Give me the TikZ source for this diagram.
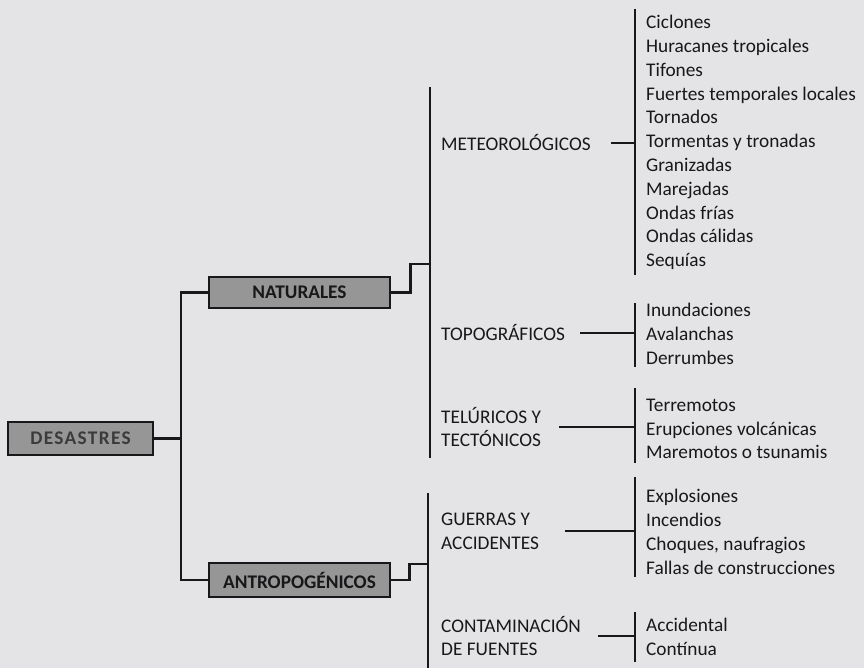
\documentclass[tikz,border=0pt]{standalone}
\usepackage{fontspec}
\setmainfont{Carlito}
\usetikzlibrary{positioning}
\newcommand{\letra}{\fontsize{19.3}{23.8}\selectfont}
\definecolor{fondo}{RGB}{228,228,230}
\definecolor{gris}{RGB}{150,150,150}
\definecolor{tinta}{RGB}{24,24,26}
\tikzset{
  caja/.style={draw=tinta, line width=2.6pt, fill=gris, font=\letra\bfseries, text=tinta, inner sep=0pt},
  categoria/.style={anchor=west, align=left, inner sep=0pt, text=tinta},
  lista/.style={anchor=west, align=left, inner sep=0pt, text=tinta},
  rama/.style={line width=2.8pt, draw=tinta},
}

\begin{document}
\begin{tikzpicture}[x=1pt, y=-1pt, font=\letra]
  % Fondo
  \fill[fondo] (0,0) rectangle (864,668);
  \useasboundingbox (0,0) rectangle (864,668);

  % Cajas principales
  \node[caja, minimum width=145pt, minimum height=33pt, text=tinta!85] (desastres) at (80.5,438.5) {\addfontfeature{LetterSpace=7}DESASTRES};
  \node[caja, minimum width=181pt, minimum height=31pt] (naturales) at (299.5,292.5) {NATURALES};
  \node[caja, minimum width=181pt, minimum height=34pt] (antropo) at (299.5,580) {ANTROPOGÉNICOS};

  % Tronco: desastres -> naturales / antropogenicos
  \coordinate (tronco) at (181,0);
  \draw[rama] (naturales.west) -| (tronco |- antropo.west) -- (antropo.west);
  \draw[rama] (desastres.east) -- (desastres.east -| tronco);

  % Barras de las categorias
  \coordinate (natT) at (430,87);
  \coordinate (natB) at (430,458);
  \coordinate (natJ) at (430,264);
  \draw[rama] (natT) -- (natB);
  \draw[rama] (naturales.east) -- ++(19,0) |- (natJ);

  \coordinate (antT) at (428,493);
  \coordinate (antB) at (428,670);
  \coordinate (antJ) at (428,564);
  \draw[rama] (antT) -- (antB);
  \draw[rama] (antropo.east) -- ++(18,0) |- (antJ);

  % Categorias
  \node[categoria] (meteo) at (441,143) {METEOROLÓGICOS};
  \node[categoria] (topo) at (441,333) {TOPOGRÁFICOS};
  \node[categoria] (telur) at (441,427) {TELÚRICOS Y\\TECTÓNICOS};
  \node[categoria] (guerras) at (441,531) {GUERRAS Y\\ACCIDENTES};
  \node[categoria] (contam) at (441,636) {CONTAMINACIÓN\\DE FUENTES};

  % Listas de cada categoria
  \node[lista] (meteoL) at (646,142.5) {Ciclones\\Huracanes tropicales\\Tifones\\Fuertes temporales locales\\Tornados\\Tormentas y tronadas\\Granizadas\\Marejadas\\Ondas frías\\Ondas cálidas\\Sequías};
  \node[lista] (topoL) at (646,334) {Inundaciones\\Avalanchas\\Derrumbes};
  \node[lista] (telurL) at (646,429) {Terremotos\\Erupciones volcánicas\\Maremotos o tsunamis};
  \node[lista] (guerrasL) at (646,532) {Explosiones\\Incendios\\Choques, naufragios\\Fallas de construcciones};
  \node[lista] (contamL) at (646,636.5) {Accidental\\Contínua};

  % Barras de las listas
  \coordinate (meteoT) at (635,9);    \coordinate (meteoB) at (635,275);
  \coordinate (topoT) at (635,303);   \coordinate (topoB) at (635,367);
  \coordinate (telurT) at (635,388);  \coordinate (telurB) at (635,463);
  \coordinate (guerrasT) at (635,477);\coordinate (guerrasB) at (635,577);
  \coordinate (contamT) at (635,612); \coordinate (contamB) at (635,662);
  \draw[rama] (meteoT) -- (meteoB);
  \draw[rama] (topoT) -- (topoB);
  \draw[rama] (telurT) -- (telurB);
  \draw[rama] (guerrasT) -- (guerrasB);
  \draw[rama] (contamT) -- (contamB);

  % Uniones categoria -> lista
  \draw[rama] ([xshift=20pt]meteo.east) -- (meteo.east -| meteoT);
  \draw[rama] ([xshift=15pt]topo.east) -- (topo.east -| topoT);
  \draw[rama] ([xshift=18pt]telur.east) -- (telur.east -| telurT);
  \draw[rama] ([xshift=26pt]guerras.east) -- (guerras.east -| guerrasT);
  \draw[rama] ([xshift=17pt]contam.east) -- (contam.east -| contamT);

\end{tikzpicture}
\end{document}
